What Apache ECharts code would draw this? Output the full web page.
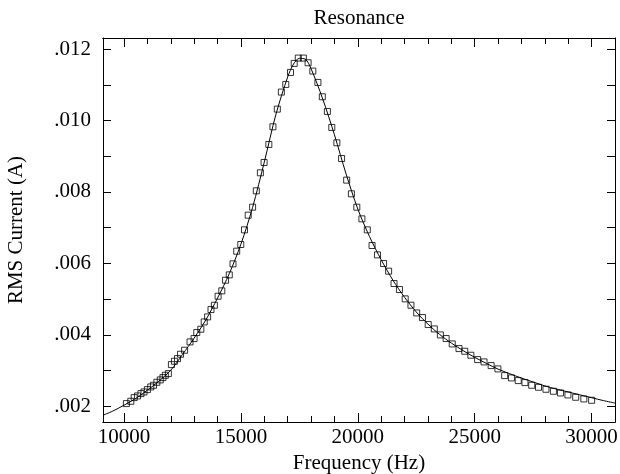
<!DOCTYPE html>
<html>
<head>
<meta charset="utf-8">
<script src="https://cdn.jsdelivr.net/npm/echarts@6/dist/echarts.min.js"></script>
<style>html,body{margin:0;padding:0;background:#fff}#c{width:620px;height:474px}</style>
</head>
<body>
<div id="c"></div>
<script>
// Measured points
const frequency = [10101,10289,10434,10579,10724,10854,10999,11143,11259,11404,11549,11664,11766,11896,
  12026,12156,12287,12417,12590,12822,12996,13111,13285,13430,13575,13719,13864,14023,14182,14342,14501,
  14660,14819,14993,15152,15311,15499,15658,15832,15991,16194,16368,16556,16729,16918,17120,17279,17453,
  17670,17873,18075,18292,18481,18698,18886,19103,19305,19523,19725,19957,20174,20405,20608,20840,21100,
  21317,21549,21780,22026,22272,22518,22764,23010,23271,23531,23777,24038,24327,24573,24834,25123,25398,
  25702,25991,26281,26570,26860,27149,27438,27728,28046,28365,28668,28986,29319,29667,30000];
const current = [0.002075,0.002140,0.002243,0.002290,0.002355,0.002402,0.002467,0.002542,0.002588,0.002672,
  0.002738,0.002803,0.002868,0.002915,0.003167,0.003261,0.003335,0.003457,0.003569,0.003802,0.003896,
  0.004064,0.004157,0.004362,0.004502,0.004708,0.004829,0.005081,0.005231,0.005529,0.005679,0.005987,
  0.006342,0.006529,0.006939,0.007350,0.007574,0.008032,0.008536,0.008825,0.009330,0.009824,0.010319,
  0.010796,0.011010,0.011346,0.011599,0.011748,0.011748,0.011617,0.011384,0.011066,0.010665,0.010254,
  0.009806,0.009376,0.008937,0.008331,0.007948,0.007574,0.007247,0.006939,0.006501,0.006239,0.005996,
  0.005782,0.005436,0.005268,0.005007,0.004829,0.004614,0.004484,0.004288,0.004166,0.003998,0.003896,
  0.003746,0.003615,0.003541,0.003429,0.003307,0.003242,0.003139,0.003046,0.002859,0.002794,0.002719,
  0.002663,0.002588,0.002532,0.002476,0.002420,0.002373,0.002318,0.002252,0.002206,0.002168];
// Fitted curve
const fitFrequency = [9100,9500,10000,10500,11000,11500,12000,12500,13000,13500,14000,14500,15000,15500,
  16000,16500,17000,17250,17500,17750,18000,18500,19000,19500,20000,20500,21000,21500,22000,22500,23000,
  23500,24000,24500,25000,25500,26000,26500,27000,27500,28000,28500,29000,29500,30000,30500,31000];
const fitCurrent = [0.00175,0.00186,0.00203,0.00222,0.00245,0.00271,0.00301,0.00345,0.00391,0.00442,
  0.00503,0.00571,0.00654,0.00757,0.00884,0.01018,0.01122,0.01158,0.01174,0.01172,0.01145,0.01060,
  0.00960,0.00850,0.00752,0.00675,0.00610,0.00553,0.00505,0.00464,0.00430,0.00401,0.00377,0.00356,
  0.00337,0.00320,0.00304,0.00291,0.00279,0.00268,0.00257,0.00248,0.00240,0.00232,0.00224,0.00216,0.00209];
// Ticks
const xMajorTicks = [10000,15000,20000,25000,30000];
const xMinorTicks = [11000,12000,13000,14000,16000,17000,18000,19000,21000,22000,23000,24000,26000,27000,28000,29000,31000];
const yTicks = [0.002,0.003,0.004,0.005,0.006,0.007,0.008,0.009,0.010,0.011,0.012];
const yTickLabels = [0.002,0.004,0.006,0.008,0.010,0.012];

const FONT = 'Liberation Serif';
const FS = 21;
const XMIN = 9100, XMAX = 31000, YMIN = 0.00156, YMAX = 0.01231;

function xAx(pos, ticks, len, labels, extra) {
  return Object.assign({
    type: 'value', position: pos, min: XMIN, max: XMAX, gridIndex: 0,
    axisLine: {show: true, onZero: false, lineStyle: {color: '#000', width: 1}},
    axisTick: {show: true, inside: true, length: len, customValues: ticks, lineStyle: {color: '#000', width: 1}},
    axisLabel: labels ? {show: true, customValues: labels, color: '#000', fontFamily: FONT, fontSize: FS, margin: 5,
      formatter: v => String(Math.round(v))} : {show: false},
    splitLine: {show: false}
  }, extra || {});
}
function yAx(pos, labels, extra) {
  return Object.assign({
    type: 'value', position: pos, min: YMIN, max: YMAX, gridIndex: 0,
    axisLine: {show: true, onZero: false, lineStyle: {color: '#000', width: 1}},
    axisTick: {show: true, inside: true, length: 8, customValues: yTicks, lineStyle: {color: '#000', width: 1}},
    axisLabel: labels ? {show: true, customValues: labels, color: '#000', fontFamily: FONT, fontSize: FS, margin: 12,
      formatter: v => v.toFixed(3).replace(/^0/, '')} : {show: false},
    splitLine: {show: false}
  }, extra || {});
}

const chart = echarts.init(document.getElementById('c'), null, {renderer: 'canvas'});
chart.setOption({
  animation: false,
  backgroundColor: '#fff',
  title: {text: 'Resonance', left: 354, top: 3, textAlign: 'center',
    textStyle: {fontFamily: FONT, fontSize: FS, fontWeight: 'normal', color: '#000'}},
  grid: {left: 103, right: 5, top: 38, bottom: 52, containLabel: false, outerBoundsMode: 'none'},
  xAxis: [
    xAx('bottom', xMajorTicks, 9, xMajorTicks, {name: 'Frequency (Hz)', nameLocation: 'middle', nameGap: 30,
      nameTextStyle: {fontFamily: FONT, fontSize: FS, color: '#000'}}),
    xAx('bottom', xMinorTicks, 6, null),
    xAx('top', xMajorTicks, 9, null),
    xAx('top', xMinorTicks, 6, null)
  ],
  yAxis: [
    yAx('left', yTickLabels, {name: 'RMS Current (A)', nameLocation: 'middle', nameGap: 76, nameRotate: 90,
      nameTextStyle: {fontFamily: FONT, fontSize: FS, color: '#000'}}),
    yAx('right', null)
  ],
  series: [
    {type: 'line', xAxisIndex: 0, yAxisIndex: 0, data: fitFrequency.map((f, i) => [f, fitCurrent[i]]),
      smooth: 0.3, showSymbol: false, lineStyle: {color: '#000', width: 1}, silent: true, z: 2},
    {type: 'scatter', xAxisIndex: 0, yAxisIndex: 0, data: frequency.map((f, i) => [f, current[i]]),
      symbol: 'rect', symbolSize: 6, itemStyle: {color: 'rgba(0,0,0,0)', borderColor: '#000', borderWidth: 1}, z: 3}
  ]
});
</script>
</body>
</html>
